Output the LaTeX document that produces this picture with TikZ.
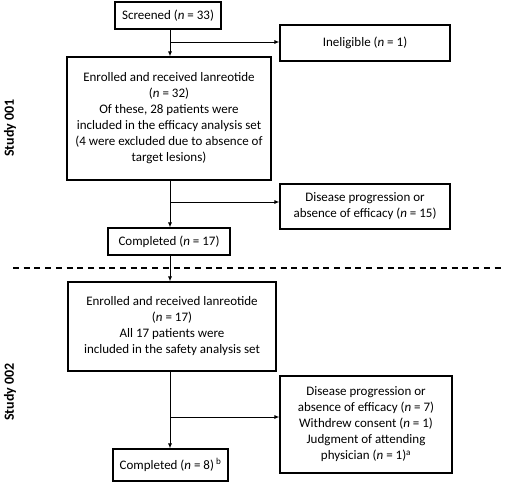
\documentclass[tikz,border=0pt]{standalone}
\usepackage{fontspec}
\setmainfont{Carlito}
\usetikzlibrary{arrows.meta}
\begin{document}
\begin{tikzpicture}[x=1pt,y=-1pt,
  box/.style={draw=black,line width=1.1pt,align=center,inner sep=0pt,font=\fontsize{13}{16}\selectfont},
  arrow/.style={line width=1pt,-{Latex[length=5pt,width=4pt]}},
  conn/.style={line width=1pt},
  studylabel/.style={rotate=90,font=\fontsize{14}{16}\selectfont\bfseries}]
\useasboundingbox (0,0) rectangle (505,482);
\node[box,minimum width=106pt,minimum height=27pt] (screened) at (168,15.5) {Screened (\textit{n} = 33)};
\node[box,minimum width=170pt,minimum height=36pt] (inel) at (365,43) {Ineligible (\textit{n} = 1)};
\node[box,minimum width=204pt,minimum height=123pt] (enr1) at (169,118.5) {Enrolled and received lanreotide\\(\textit{n} = 32)\\Of these, 28 patients were\\included in the efficacy analysis set\\(4 were excluded due to absence of\\target lesions)};
\node[box,minimum width=170pt,minimum height=45pt] (dis1) at (365,206.5) {Disease progression or\\absence of efficacy (\textit{n} = 15)};
\node[box,minimum width=122pt,minimum height=27pt] (comp1) at (169,241.5) {Completed (\textit{n} = 17)};
\node[box,minimum width=208pt,minimum height=89pt] (enr2) at (172,326.5) {Enrolled and received lanreotide\\(\textit{n} = 17)\\All 17 patients were\\included in the safety analysis set};
\node[box,minimum width=172pt,minimum height=97pt] (dis2) at (366,424.5) {Disease progression or\\absence of efficacy (\textit{n} = 7)\\Withdrew consent (\textit{n} = 1)\\Judgment of attending\\physician (\textit{n} = 1)\textsuperscript{a}};
\node[box,minimum width=115pt,minimum height=32pt] (comp2) at (170.5,465) {Completed (\textit{n} = 8)\textsuperscript{ b}};
\node[studylabel] (s1) at (10,128) {Study 001};
\node[studylabel] (s2) at (10,392) {Study 002};
\coordinate (spine) at (170,0);
\coordinate (b1) at (170,42);
\coordinate (b2) at (170,202);
\coordinate (b3) at (170,417);
\coordinate (dl) at (13,268);
\coordinate (dr) at (505,268);
\draw[arrow] (screened.south -| spine) -- (enr1.north -| spine);
\draw[arrow] (b1) -- (inel.west |- b1);
\draw[arrow] (enr1.south -| spine) -- (comp1.north -| spine);
\draw[arrow] (b2) -- (dis1.west |- b2);
\draw[arrow] (comp1.south -| spine) -- (enr2.north -| spine);
\draw[arrow] (enr2.south -| spine) -- (comp2.north -| spine);
\draw[arrow] (b3) -- (dis2.west |- b3);
\draw[line width=1.1pt,dash pattern=on 6pt off 4.7pt] (dl) -- (dr);
\end{tikzpicture}
\end{document}
